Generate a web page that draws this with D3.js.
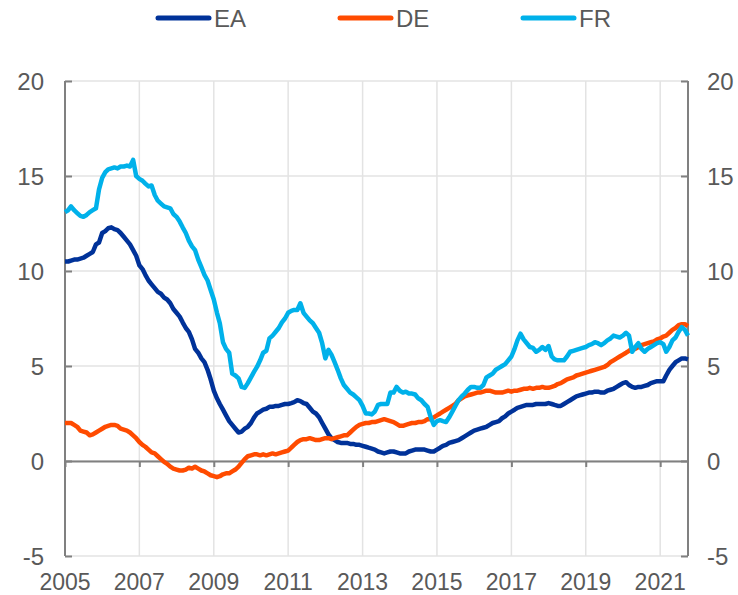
<!DOCTYPE html>
<html>
<head>
<meta charset="utf-8">
<script src="https://cdn.jsdelivr.net/npm/d3@7/dist/d3.min.js"></script>
<style>
    body { margin: 0; background: #ffffff; }
    svg text { font-family: Arial, "Liberation Sans", sans-serif; fill: #595959; }
</style>
</head>
<body>
<svg id="chart" width="738" height="595"></svg>
<script>
// monthly, Jan 2005 - Oct 2021
var startYear = 2005;
var seriesNames = ['EA', 'DE', 'FR'];
var seriesColors = ['#003299', '#ff4b00', '#00b1ea'];

var eaValues = [
    10.5,10.5,10.55,10.6,10.6,10.65,10.7,10.8,10.9,11.0,11.4,11.5,
    12.0,12.1,12.25,12.3,12.2,12.15,12.0,11.8,11.6,11.4,11.1,10.8,
    10.3,10.1,9.8,9.5,9.3,9.1,8.9,8.8,8.6,8.5,8.3,8.0,
    7.8,7.6,7.3,7.0,6.8,6.4,5.9,5.7,5.4,5.2,4.8,4.3,
    3.7,3.3,3.0,2.7,2.4,2.1,1.9,1.7,1.5,1.55,1.7,1.8,
    2.0,2.3,2.5,2.6,2.7,2.75,2.85,2.85,2.9,2.9,2.95,3.0,
    3.0,3.05,3.1,3.2,3.15,3.05,3.0,2.8,2.6,2.5,2.3,2.0,
    1.7,1.4,1.2,1.1,1.0,0.95,0.95,0.95,0.9,0.9,0.85,0.85,
    0.8,0.75,0.7,0.65,0.6,0.5,0.45,0.4,0.45,0.5,0.5,0.45,
    0.4,0.4,0.4,0.5,0.55,0.6,0.6,0.6,0.6,0.55,0.5,0.5,
    0.6,0.7,0.8,0.85,0.95,1.0,1.05,1.1,1.2,1.3,1.4,1.5,
    1.6,1.65,1.7,1.75,1.8,1.9,2.0,2.05,2.1,2.25,2.35,2.5,
    2.6,2.7,2.8,2.85,2.9,2.95,2.95,2.95,3.0,3.0,3.0,3.0,
    3.05,3.0,2.95,2.9,2.9,3.0,3.1,3.2,3.3,3.4,3.45,3.5,
    3.55,3.6,3.6,3.65,3.65,3.6,3.6,3.7,3.75,3.8,3.9,4.0,
    4.1,4.15,4.0,3.9,3.85,3.9,3.9,3.95,4.0,4.1,4.15,4.2,
    4.2,4.2,4.5,4.8,5.0,5.2,5.3,5.4,5.4,5.35
];

var deValues = [
    2.0,2.0,2.0,1.9,1.8,1.6,1.55,1.5,1.35,1.4,1.5,1.6,
    1.7,1.8,1.85,1.9,1.9,1.85,1.7,1.65,1.6,1.5,1.35,1.2,
    1.0,0.85,0.75,0.6,0.45,0.4,0.25,0.1,-0.05,-0.15,-0.3,-0.4,
    -0.45,-0.5,-0.5,-0.45,-0.35,-0.4,-0.3,-0.4,-0.5,-0.55,-0.65,-0.75,
    -0.8,-0.85,-0.8,-0.7,-0.65,-0.65,-0.55,-0.45,-0.3,-0.1,0.1,0.25,
    0.3,0.35,0.35,0.3,0.35,0.3,0.35,0.4,0.35,0.4,0.45,0.5,
    0.55,0.7,0.85,1.0,1.1,1.15,1.15,1.2,1.15,1.1,1.1,1.15,
    1.2,1.2,1.15,1.2,1.25,1.3,1.35,1.35,1.5,1.65,1.8,1.9,
    1.95,2.0,2.0,2.05,2.05,2.1,2.15,2.2,2.15,2.1,2.05,1.95,
    1.85,1.85,1.9,1.95,2.0,2.0,2.05,2.05,2.1,2.2,2.2,2.3,
    2.4,2.5,2.6,2.7,2.8,2.9,3.0,3.2,3.3,3.4,3.45,3.5,
    3.55,3.6,3.6,3.65,3.7,3.7,3.65,3.6,3.6,3.6,3.65,3.7,
    3.65,3.7,3.7,3.75,3.8,3.8,3.85,3.8,3.85,3.85,3.9,3.85,
    3.85,3.9,3.95,4.05,4.1,4.2,4.3,4.35,4.4,4.5,4.55,4.6,
    4.65,4.7,4.75,4.8,4.85,4.9,4.95,5.05,5.2,5.3,5.4,5.5,
    5.6,5.7,5.8,5.9,5.9,6.0,6.1,6.15,6.2,6.25,6.3,6.4,
    6.45,6.55,6.6,6.75,6.9,7.0,7.15,7.2,7.2,7.1
];

var frValues = [
    13.1,13.2,13.4,13.2,13.05,12.9,12.85,12.95,13.1,13.2,13.3,14.3,
    14.9,15.2,15.35,15.4,15.45,15.4,15.5,15.5,15.55,15.5,15.85,15.0,
    14.85,14.75,14.6,14.45,14.5,14.0,13.7,13.55,13.4,13.35,13.3,13.0,
    12.85,12.6,12.3,12.0,11.6,11.3,11.1,10.6,10.2,9.8,9.5,9.0,
    8.5,7.8,7.25,6.25,5.9,5.7,4.6,4.5,4.35,3.9,3.85,4.1,
    4.4,4.7,4.95,5.3,5.7,5.8,6.45,6.6,6.8,7.0,7.3,7.5,
    7.8,7.9,7.95,7.95,8.3,7.8,7.6,7.4,7.25,7.0,6.75,6.2,
    5.4,5.85,5.6,5.2,4.8,4.35,4.0,3.8,3.6,3.5,3.35,3.2,
    2.9,2.5,2.5,2.45,2.6,2.95,3.0,3.0,3.0,3.6,3.6,3.9,
    3.7,3.6,3.65,3.55,3.55,3.5,3.3,3.2,3.0,2.85,2.3,1.9,
    2.1,2.15,2.1,2.05,2.3,2.6,2.9,3.2,3.4,3.55,3.75,3.9,
    3.9,3.85,3.85,4.0,4.4,4.5,4.6,4.8,4.9,5.0,5.1,5.3,
    5.5,5.9,6.35,6.7,6.4,6.2,6.0,5.95,5.75,5.85,6.0,5.85,
    6.05,5.5,5.35,5.3,5.3,5.3,5.5,5.75,5.8,5.85,5.9,5.95,
    6.0,6.1,6.15,6.25,6.2,6.1,6.2,6.35,6.45,6.6,6.55,6.5,
    6.6,6.75,6.6,5.75,6.0,6.2,5.9,5.75,5.9,6.0,6.1,6.2,
    6.25,6.15,5.75,6.0,6.35,6.5,6.8,7.05,6.9,6.6
];

var tickYears = [2005, 2007, 2009, 2011, 2013, 2015, 2017, 2019, 2021];
var yTicks = [-5, 0, 5, 10, 15, 20];

var svg = d3.select('#chart');

var x = d3.scaleTime()
    .domain([new Date(startYear, 0, 1), new Date(2021, 9, 1)])
    .range([65, 688]);
var y = d3.scaleLinear().domain([-5, 20]).range([556, 81]);

function monthDate(i) { return new Date(startYear, i, 1); }

// gridlines
var grid = svg.append('g').attr('class', 'grid');
grid.selectAll('line.h').data(yTicks).enter().append('line')
    .attr('x1', x.range()[0]).attr('x2', x.range()[1])
    .attr('y1', function (d) { return y(d); }).attr('y2', function (d) { return y(d); })
    .attr('stroke', '#e3e3e3').attr('stroke-width', 1.5);
grid.selectAll('line.v').data(tickYears.slice(1)).enter().append('line')
    .attr('x1', function (d) { return x(new Date(d, 0, 1)); })
    .attr('x2', function (d) { return x(new Date(d, 0, 1)); })
    .attr('y1', y(20)).attr('y2', y(-5))
    .attr('stroke', '#e3e3e3').attr('stroke-width', 1.5);

// left and right axes, ticks pointing inward
var leftAxis = d3.axisRight(y).tickValues(yTicks).tickSize(7).tickFormat('');
var rightAxis = d3.axisLeft(y).tickValues(yTicks).tickSize(7).tickFormat('');
var gl = svg.append('g').attr('transform', 'translate(65,0)').call(leftAxis);
var gr = svg.append('g').attr('transform', 'translate(688,0)').call(rightAxis);
[gl, gr].forEach(function (g) {
    g.select('.domain').attr('stroke', '#808080').attr('stroke-width', 2).attr('d',
        'M0,' + y(20) + 'V' + y(-5));
    g.selectAll('.tick line').attr('stroke', '#808080').attr('stroke-width', 2);
});

// zero line with year ticks
var xAxis = d3.axisBottom(x)
    .tickValues(tickYears.map(function (d) { return new Date(d, 0, 1); }))
    .tickSize(6).tickSizeOuter(0).tickFormat('');
var gx = svg.append('g').attr('transform', 'translate(0,' + y(0) + ')').call(xAxis);
gx.select('.domain').attr('stroke', '#808080').attr('stroke-width', 2);
gx.selectAll('.tick line').attr('stroke', '#808080').attr('stroke-width', 2);

// tick labels
svg.append('g').selectAll('text').data(yTicks).enter().append('text')
    .attr('x', 44).attr('y', function (d) { return y(d); }).attr('dy', '0.36em')
    .attr('text-anchor', 'end').style('font-size', '24px')
    .text(function (d) { return d; });
svg.append('g').selectAll('text').data(yTicks).enter().append('text')
    .attr('x', 707).attr('y', function (d) { return y(d); }).attr('dy', '0.36em')
    .attr('text-anchor', 'start').style('font-size', '24px')
    .text(function (d) { return d; });
svg.append('g').selectAll('text').data(tickYears).enter().append('text')
    .attr('x', function (d) { return x(new Date(d, 0, 1)); }).attr('y', 590)
    .attr('text-anchor', 'middle').style('font-size', '23px')
    .text(function (d) { return d; });

// series
var allValues = [eaValues, deValues, frValues];
var line = d3.line()
    .x(function (d, i) { return x(monthDate(i)); })
    .y(function (d) { return y(d); });

svg.append('g').selectAll('path.series').data(allValues).enter().append('path')
    .attr('class', 'series')
    .attr('fill', 'none')
    .attr('stroke', function (d, i) { return seriesColors[i]; })
    .attr('stroke-width', 4.5)
    .attr('stroke-linejoin', 'round')
    .attr('d', line);

// legend
var legendX = [158, 340, 523];
var legend = svg.append('g').selectAll('g').data(seriesNames).enter().append('g')
    .attr('transform', function (d, i) { return 'translate(' + legendX[i] + ',18)'; });
legend.append('line')
    .attr('x1', 0).attr('x2', 51).attr('y1', 0).attr('y2', 0)
    .attr('stroke', function (d, i) { return seriesColors[i]; })
    .attr('stroke-width', 5).attr('stroke-linecap', 'round');
legend.append('text')
    .attr('x', 56).attr('y', 0).attr('dy', '0.36em')
    .style('font-size', '24px')
    .text(function (d) { return d; });
</script>
</body>
</html>
